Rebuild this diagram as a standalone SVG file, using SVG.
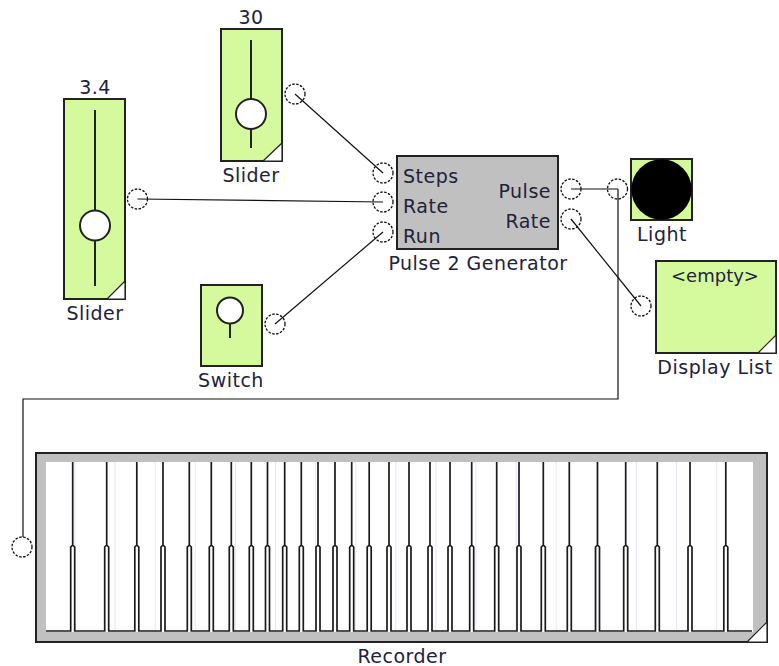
<svg xmlns="http://www.w3.org/2000/svg" width="779" height="666" viewBox="0 0 779 666">
<style>
.node{fill:#d5fa9e;stroke:#222;stroke-width:2}
.gray{fill:#c0c0c0;stroke:#222;stroke-width:2}
.lbl{font-family:"DejaVu Sans",Verdana,sans-serif;font-size:19px;letter-spacing:0.5px;fill:#22223a}
.mid{text-anchor:middle}
.end{text-anchor:end}
.port{fill:none;stroke:#111;stroke-width:1.3;stroke-dasharray:2.5 1.5}
.wire{fill:none;stroke:#111;stroke-width:1.2}
.track{stroke:#222;stroke-width:2}
.knob{fill:#fff;stroke:#222;stroke-width:2}
.rsz{fill:#fff;stroke:#222;stroke-width:1.2}
.grid{stroke:#e4e4ff;stroke-width:1}
</style>
<rect width="779" height="666" fill="#fff"/>
<g id="connectors">
<line class="wire" x1="137.5" y1="199" x2="383" y2="202"/>
<line class="wire" x1="295" y1="94" x2="383" y2="173"/>
<line class="wire" x1="275" y1="324" x2="383" y2="232"/>
<line class="wire" x1="571" y1="219" x2="641" y2="306"/>
<path class="wire" d="M571,189 H618"/>
<path class="wire" d="M618,189 V399 H23 V537"/>
</g>
<g id="slider1">
<text class="lbl mid" x="95" y="94">3.4</text>
<rect class="node" x="64" y="99" width="61" height="200"/>
<line class="track" x1="95" y1="110" x2="95" y2="286"/>
<circle class="knob" cx="95" cy="225.5" r="15"/>
<polygon class="rsz" points="107,299 125,281 125,299"/>
<circle class="port" cx="137.5" cy="199" r="10"/>
<text class="lbl mid" x="95" y="320">Slider</text>
</g>
<g id="slider2">
<text class="lbl mid" x="251" y="24">30</text>
<rect class="node" x="221" y="29" width="61" height="132"/>
<line class="track" x1="251" y1="40" x2="251" y2="148"/>
<circle class="knob" cx="251" cy="114" r="15"/>
<polygon class="rsz" points="263,161 282,143 282,161"/>
<circle class="port" cx="295" cy="94" r="10"/>
<text class="lbl mid" x="251" y="182">Slider</text>
</g>
<g id="switch">
<rect class="node" x="201" y="285" width="61" height="81"/>
<circle class="knob" cx="230" cy="310.5" r="13"/>
<line class="track" x1="230" y1="323.5" x2="230" y2="338"/>
<circle class="port" cx="275" cy="324" r="10"/>
<text class="lbl mid" x="231" y="387">Switch</text>
</g>
<g id="pulse2generator">
<rect class="gray" x="397" y="156" width="161" height="93"/>
<circle class="port" cx="383" cy="173" r="10"/>
<circle class="port" cx="383" cy="202" r="10"/>
<circle class="port" cx="383" cy="232" r="10"/>
<circle class="port" cx="571" cy="189" r="10"/>
<circle class="port" cx="571" cy="219" r="10"/>
<text class="lbl" x="403" y="183">Steps</text>
<text class="lbl" x="403" y="212.5">Rate</text>
<text class="lbl" x="403" y="242.5">Run</text>
<text class="lbl end" x="551" y="197.5">Pulse</text>
<text class="lbl end" x="551" y="228">Rate</text>
<text class="lbl mid" x="478" y="270">Pulse 2 Generator</text>
</g>
<g id="light">
<rect class="node" x="631" y="159" width="61" height="61"/>
<circle cx="661.5" cy="189.5" r="30.2" fill="#000"/>
<circle class="port" cx="617.5" cy="189" r="10"/>
<text class="lbl mid" x="662" y="241">Light</text>
</g>
<g id="displaylist">
<rect class="node" x="656" y="261" width="120" height="92"/>
<text class="lbl mid" x="715" y="282" style="font-size:18px;letter-spacing:0">&lt;empty&gt;</text>
<polygon class="rsz" points="758,353 776,335 776,353"/>
<circle class="port" cx="641" cy="306" r="10"/>
<text class="lbl mid" x="715" y="374">Display List</text>
</g>
<g id="recorder">
<rect class="gray" x="36" y="453" width="731" height="189"/>
<rect x="46" y="462" width="707" height="170" fill="#fff"/>
<g class="grid">
<line x1="75" y1="462" x2="75" y2="632"/>
<line x1="115.1" y1="462" x2="115.1" y2="632"/>
<line x1="155.2" y1="462" x2="155.2" y2="632"/>
<line x1="195.3" y1="462" x2="195.3" y2="632"/>
<line x1="235.4" y1="462" x2="235.4" y2="632"/>
<line x1="275.5" y1="462" x2="275.5" y2="632"/>
<line x1="315.6" y1="462" x2="315.6" y2="632"/>
<line x1="355.7" y1="462" x2="355.7" y2="632"/>
<line x1="395.8" y1="462" x2="395.8" y2="632"/>
<line x1="435.9" y1="462" x2="435.9" y2="632"/>
<line x1="476" y1="462" x2="476" y2="632"/>
<line x1="516.1" y1="462" x2="516.1" y2="632"/>
<line x1="556.2" y1="462" x2="556.2" y2="632"/>
<line x1="596.3" y1="462" x2="596.3" y2="632"/>
<line x1="636.4" y1="462" x2="636.4" y2="632"/>
<line x1="676.5" y1="462" x2="676.5" y2="632"/>
<line x1="716.6" y1="462" x2="716.6" y2="632"/>
</g>
<path fill="none" stroke="#1a1a1a" stroke-width="1.7" d="M46,631
H70.7 V547 L72.7,545 V462 V545 L74.7,547 V631
H104.7 V547 L106.7,545 V462 V545 L108.7,547 V631
H134.8 V547 L136.8,545 V462 V545 L138.8,547 V631
H161 V547 L163,545 V462 V545 L165,547 V631
H187.3 V547 L189.3,545 V462 V545 L191.3,547 V631
H209.3 V547 L211.3,545 V462 V545 L213.3,547 V631
H229.3 V547 L231.3,545 V462 V545 L233.3,547 V631
H249.3 V547 L251.3,545 V462 V545 L253.3,547 V631
H265.5 V547 L267.5,545 V462 V545 L269.5,547 V631
H282.7 V547 L284.7,545 V462 V545 L286.7,547 V631
H299.3 V547 L301.3,545 V462 V545 L303.3,547 V631
H316 V547 L318,545 V462 V545 L320,547 V631
H333 V547 L335,545 V462 V545 L337,547 V631
H349.7 V547 L351.7,545 V462 V545 L353.7,547 V631
H367.2 V547 L369.2,545 V462 V545 L371.2,547 V631
H387 V547 L389,545 V462 V545 L391,547 V631
H407 V547 L409,545 V462 V545 L411,547 V631
H428 V547 L430,545 V462 V545 L432,547 V631
H448 V547 L450,545 V462 V545 L452,547 V631
H469.7 V547 L471.7,545 V462 V545 L473.7,547 V631
H494.7 V547 L496.7,545 V462 V545 L498.7,547 V631
H517 V547 L519,545 V462 V545 L521,547 V631
H541.3 V547 L543.3,545 V462 V545 L545.3,547 V631
H567.3 V547 L569.3,545 V462 V545 L571.3,547 V631
H595.5 V547 L597.5,545 V462 V545 L599.5,547 V631
H623.7 V547 L625.7,545 V462 V545 L627.7,547 V631
H655.3 V547 L657.3,545 V462 V545 L659.3,547 V631
H688 V547 L690,545 V462 V545 L692,547 V631
H723.8 V547 L725.8,545 V462 V545 L727.8,547 V631
H752"/>
<polygon class="rsz" points="747,642 767,622 767,642"/>
<circle class="port" cx="22" cy="547" r="10"/>
<text class="lbl mid" x="402" y="663">Recorder</text>
</g>
</svg>
